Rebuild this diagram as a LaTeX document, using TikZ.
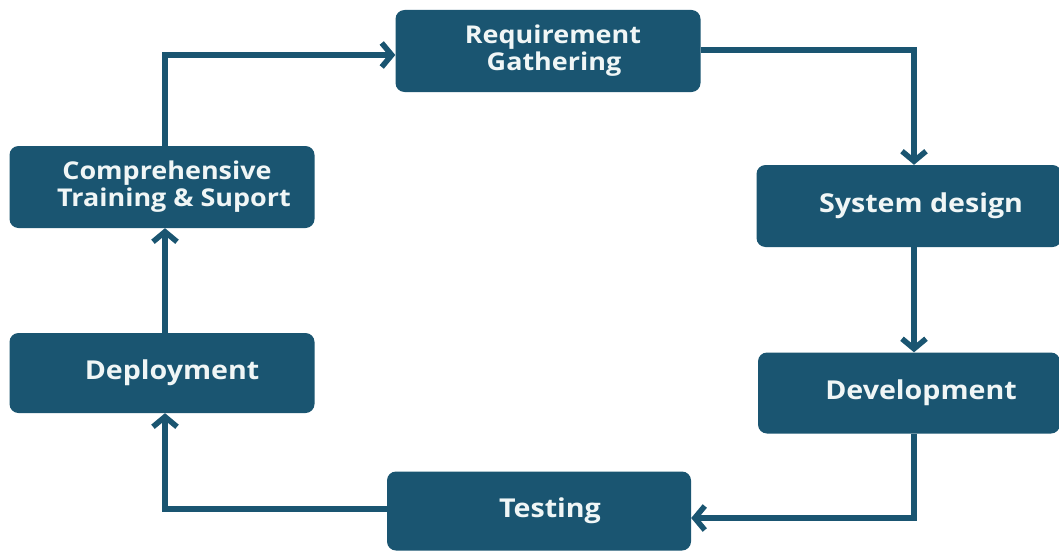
\documentclass[tikz,border=0pt]{standalone}
\usepackage{fontspec}
\setmainfont{Open Sans}[BoldFont={* Bold}, BoldFeatures={FakeStretch=1.1}]
\usetikzlibrary{arrows.meta}
\definecolor{boxblue}{RGB}{26,85,113}
\definecolor{txt}{RGB}{240,246,246}
\begin{document}
\begin{tikzpicture}[x=1pt,y=-1pt,
  stage/.style={fill=boxblue, rounded corners=9pt, text=txt, font=\bfseries\fontsize{26}{28}\selectfont, align=center, inner sep=0pt},
  twoline/.style={font=\bfseries\fontsize{24.5}{27}\selectfont},
  flow/.style={draw=boxblue, line width=5.5pt, -{Straight Barb[length=10pt,width=24pt,line width=5.5pt]}, line join=miter}]
\useasboundingbox[fill=white] (0,0) rectangle (1059,551);
\node[stage, twoline, minimum width=305pt, minimum height=82pt] (req) at (548,51) {\hspace*{10pt}Requirement\\\hspace*{12pt}Gathering};
\node[stage, minimum width=305pt, minimum height=82pt] (sys) at (909,206) {\hspace*{24pt}System design};
\node[stage, minimum width=302pt, minimum height=81pt] (dev) at (909,393) {\hspace*{24pt}Development};
\node[stage, minimum width=304pt, minimum height=79pt] (test) at (539,511) {\hspace*{22pt}Testing};
\node[stage, minimum width=305pt, minimum height=80pt] (dep) at (162,373) {\hspace*{20pt}Deployment};
\node[stage, twoline, minimum width=305pt, minimum height=82pt] (comp) at (162,187) {\hspace*{10pt}Comprehensive\\\hspace*{24pt}Training \& Suport};
\coordinate (c1) at (165,55);
\coordinate (c2) at (914,50);
\coordinate (c3) at (914,518);
\coordinate (c4) at (165,509);
\draw[flow] (comp.north -| c1) -- (c1) -- (c1 -| req.west);
\draw[flow] (c2 -| req.east) -- (c2) -- (c2 |- sys.north);
\draw[flow] (sys.south -| c2) -- (dev.north -| c2);
\draw[flow] (dev.south -| c3) -- (c3) -- (c3 -| test.east);
\draw[flow] (c4 -| test.west) -- (c4) -- (c4 |- dep.south);
\draw[flow] (dep.north -| c4) -- (comp.south -| c4);
\end{tikzpicture}
\end{document}
